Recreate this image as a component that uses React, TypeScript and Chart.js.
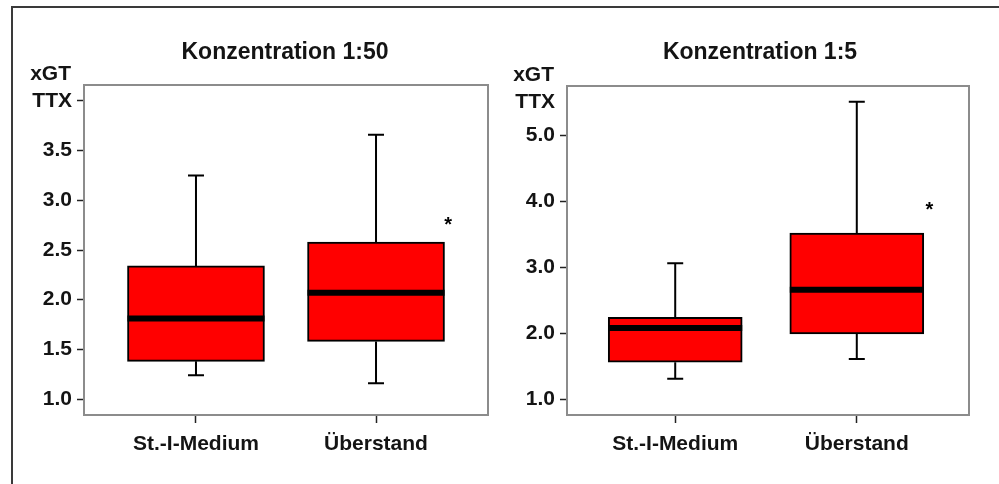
import React, { useEffect, useRef } from 'react';
import { Chart, registerables } from 'chart.js';

Chart.register(...registerables);

const categories = ['St.-I-Medium', 'Überstand'];
const unitLabel = 'xGT';

// Konzentration 1:50
const title50 = 'Konzentration 1:50';
const low50 = [1.24, 1.16];
const q1_50 = [1.38, 1.58];
const median50 = [1.81, 2.07];
const q3_50 = [2.34, 2.58];
const high50 = [3.25, 3.66];
const star50: (number | null)[] = [null, 2.78];
const yTicks50 = [1.0, 1.5, 2.0, 2.5, 3.0, 3.5, 4.0];
const yTickLabels50 = ['1.0', '1.5', '2.0', '2.5', '3.0', '3.5', 'TTX'];

// Konzentration 1:5
const title5 = 'Konzentration 1:5';
const low5 = [1.31, 1.61];
const q1_5 = [1.56, 1.99];
const median5 = [2.08, 2.66];
const q3_5 = [2.24, 3.52];
const high5 = [3.06, 5.51];
const star5: (number | null)[] = [null, 3.91];
const yTicks5 = [1.0, 2.0, 3.0, 4.0, 5.0, 5.5];
const yTickLabels5 = ['1.0', '2.0', '3.0', '4.0', '5.0', 'TTX'];

const FONT = '"Liberation Sans", Arial, sans-serif';
const TEXT = '#141414';

type Props = {
  title: string;
  low: number[];
  q1: number[];
  median: number[];
  q3: number[];
  high: number[];
  star: (number | null)[];
  yTicks: number[];
  yTickLabels: string[];
  hiddenTickMarks: number[];
  yMin: number;
  yMax: number;
  xMin: number;
  xMax: number;
  width: number;
  height: number;
  left: number;
  top: number;
  axisWidth: number;
  padRight: number;
  padTop: number;
  xAxisHeight: number;
  barThickness: number;
  titleShift: number;
  titleY: number;
};

function BoxChart(p: Props) {
  const ref = useRef<HTMLCanvasElement | null>(null);
  useEffect(() => {
    if (!ref.current) return;
    const extras = {
      id: 'boxExtras',
      beforeDatasetsDraw(chart: any) {
        const { ctx, chartArea } = chart;
        ctx.save();
        ctx.strokeStyle = '#8c8c8c';
        ctx.lineWidth = 2;
        ctx.strokeRect(chartArea.left, chartArea.top, chartArea.right - chartArea.left, chartArea.bottom - chartArea.top);
        ctx.restore();
      },
      afterDatasetsDraw(chart: any) {
        const { ctx } = chart;
        const xs = chart.scales.x;
        const ys = chart.scales.y;
        const meta = chart.getDatasetMeta(0);
        ctx.save();
        ctx.strokeStyle = '#000';
        p.low.forEach((lo, i) => {
          const x = xs.getPixelForValue(i + 1);
          const half = meta.data[i].width / 2;
          const capHalf = 8;
          const yLo = ys.getPixelForValue(lo);
          const yQ1 = ys.getPixelForValue(p.q1[i]);
          const yQ3 = ys.getPixelForValue(p.q3[i]);
          const yHi = ys.getPixelForValue(p.high[i]);
          const yMed = ys.getPixelForValue(p.median[i]);
          ctx.lineWidth = 2;
          ctx.beginPath();
          ctx.moveTo(x, yQ1);
          ctx.lineTo(x, yLo);
          ctx.moveTo(x - capHalf, yLo);
          ctx.lineTo(x + capHalf, yLo);
          ctx.moveTo(x, yQ3);
          ctx.lineTo(x, yHi);
          ctx.moveTo(x - capHalf, yHi);
          ctx.lineTo(x + capHalf, yHi);
          ctx.stroke();
          ctx.lineWidth = 6;
          ctx.beginPath();
          ctx.moveTo(x - half, yMed);
          ctx.lineTo(x + half, yMed);
          ctx.stroke();
          const s = p.star[i];
          if (s !== null && s !== undefined) {
            const sx = xs.getPixelForValue(i + 1.4);
            const sy = ys.getPixelForValue(s);
            ctx.fillStyle = '#000';
            ctx.font = `bold 20px ${FONT}`;
            ctx.textAlign = 'center';
            ctx.textBaseline = 'alphabetic';
            ctx.fillText('*', sx, sy + 20 * 0.45);
          }
        });
        ctx.restore();
      },
      afterDraw(chart: any) {
        const { ctx, chartArea } = chart;
        ctx.save();
        ctx.fillStyle = TEXT;
        ctx.font = `bold 23px ${FONT}`;
        ctx.textAlign = 'center';
        ctx.textBaseline = 'middle';
        ctx.fillText(p.title, (chartArea.left + chartArea.right) / 2 + p.titleShift, p.titleY);
        ctx.font = `bold 21px ${FONT}`;
        ctx.textAlign = 'right';
        ctx.fillText(unitLabel, chartArea.left - 13, chartArea.top - 11);
        ctx.restore();
      },
    };
    const chart = new Chart(ref.current, {
      type: 'bar',
      data: {
        datasets: [
          {
            data: p.q1.map((v, i) => ({ x: i + 1, y: [v, p.q3[i]] })) as any,
            backgroundColor: '#ff0000',
            borderColor: '#000000',
            borderWidth: 2,
            borderSkipped: false,
            barThickness: p.barThickness,
          },
        ],
      },
      options: {
        responsive: false,
        animation: false,
        events: [],
        layout: { padding: { left: 0, right: p.padRight, top: p.padTop, bottom: 0 } },
        plugins: { legend: { display: false }, tooltip: { enabled: false }, title: { display: false } },
        scales: {
          x: {
            type: 'linear',
            min: p.xMin,
            max: p.xMax,
            offset: false,
            afterBuildTicks: (scale: any) => {
              scale.ticks = categories.map((_, i) => ({ value: i + 1 }));
            },
            afterFit: (scale: any) => {
              scale.height = p.xAxisHeight;
            },
            grid: { drawOnChartArea: false, drawTicks: true, tickLength: 8, tickColor: '#222', tickWidth: 1.5, offset: false },
            border: { display: false },
            ticks: {
              autoSkip: false,
              maxRotation: 0,
              padding: 9,
              color: TEXT,
              font: { family: FONT, size: 21, weight: 'bold' },
              callback: (v: any) => categories[Math.round(v) - 1] ?? '',
            },
          },
          y: {
            type: 'linear',
            min: p.yMin,
            max: p.yMax,
            afterBuildTicks: (scale: any) => {
              scale.ticks = p.yTicks.map((v) => ({ value: v }));
            },
            afterFit: (scale: any) => {
              scale.width = p.axisWidth;
            },
            grid: {
              drawOnChartArea: false,
              drawTicks: true,
              tickLength: 7,
              tickWidth: 1.5,
              tickColor: (c: any) => (c.tick && p.hiddenTickMarks.includes(c.tick.value) ? 'rgba(0,0,0,0)' : '#222'),
            },
            border: { display: false },
            ticks: {
              autoSkip: false,
              padding: 5,
              color: TEXT,
              font: { family: FONT, size: 21, weight: 'bold' },
              callback: (v: any) => {
                const idx = p.yTicks.indexOf(v);
                return idx >= 0 ? p.yTickLabels[idx] : '';
              },
            },
          },
        },
      },
      plugins: [extras],
    } as any);
    return () => chart.destroy();
  }, []);
  return (
    <canvas
      ref={ref}
      width={p.width}
      height={p.height}
      style={{ position: 'absolute', left: p.left, top: p.top, width: p.width, height: p.height }}
    />
  );
}

export default function App() {
  return (
    <div style={{ position: 'fixed', left: 0, top: 0, width: 999, height: 484, background: '#fff', overflow: 'hidden' }}>
      <div
        style={{
          position: 'absolute',
          left: 11,
          top: 6,
          right: 0,
          bottom: 0,
          borderTop: '2px solid #3a3a3a',
          borderLeft: '2px solid #3a3a3a',
        }}
      />
      <BoxChart
        title={title50}
        low={low50}
        q1={q1_50}
        median={median50}
        q3={q3_50}
        high={high50}
        star={star50}
        yTicks={yTicks50}
        yTickLabels={yTickLabels50}
        hiddenTickMarks={[]}
        yMin={0.84}
        yMax={4.16}
        xMin={0.378}
        xMax={2.622}
        width={478}
        height={470}
        left={14}
        top={10}
        axisWidth={70}
        padRight={4}
        padTop={75}
        xAxisHeight={65}
        barThickness={137}
        titleShift={-1}
        titleY={43}
      />
      <BoxChart
        title={title5}
        low={low5}
        q1={q1_5}
        median={median5}
        q3={q3_5}
        high={high5}
        star={star5}
        yTicks={yTicks5}
        yTickLabels={yTickLabels5}
        hiddenTickMarks={[5.5]}
        yMin={0.76}
        yMax={5.75}
        xMin={0.404}
        xMax={2.618}
        width={496}
        height={470}
        left={495}
        top={10}
        axisWidth={72}
        padRight={22}
        padTop={76}
        xAxisHeight={65}
        barThickness={134}
        titleShift={-8}
        titleY={43}
      />
    </div>
  );
}
